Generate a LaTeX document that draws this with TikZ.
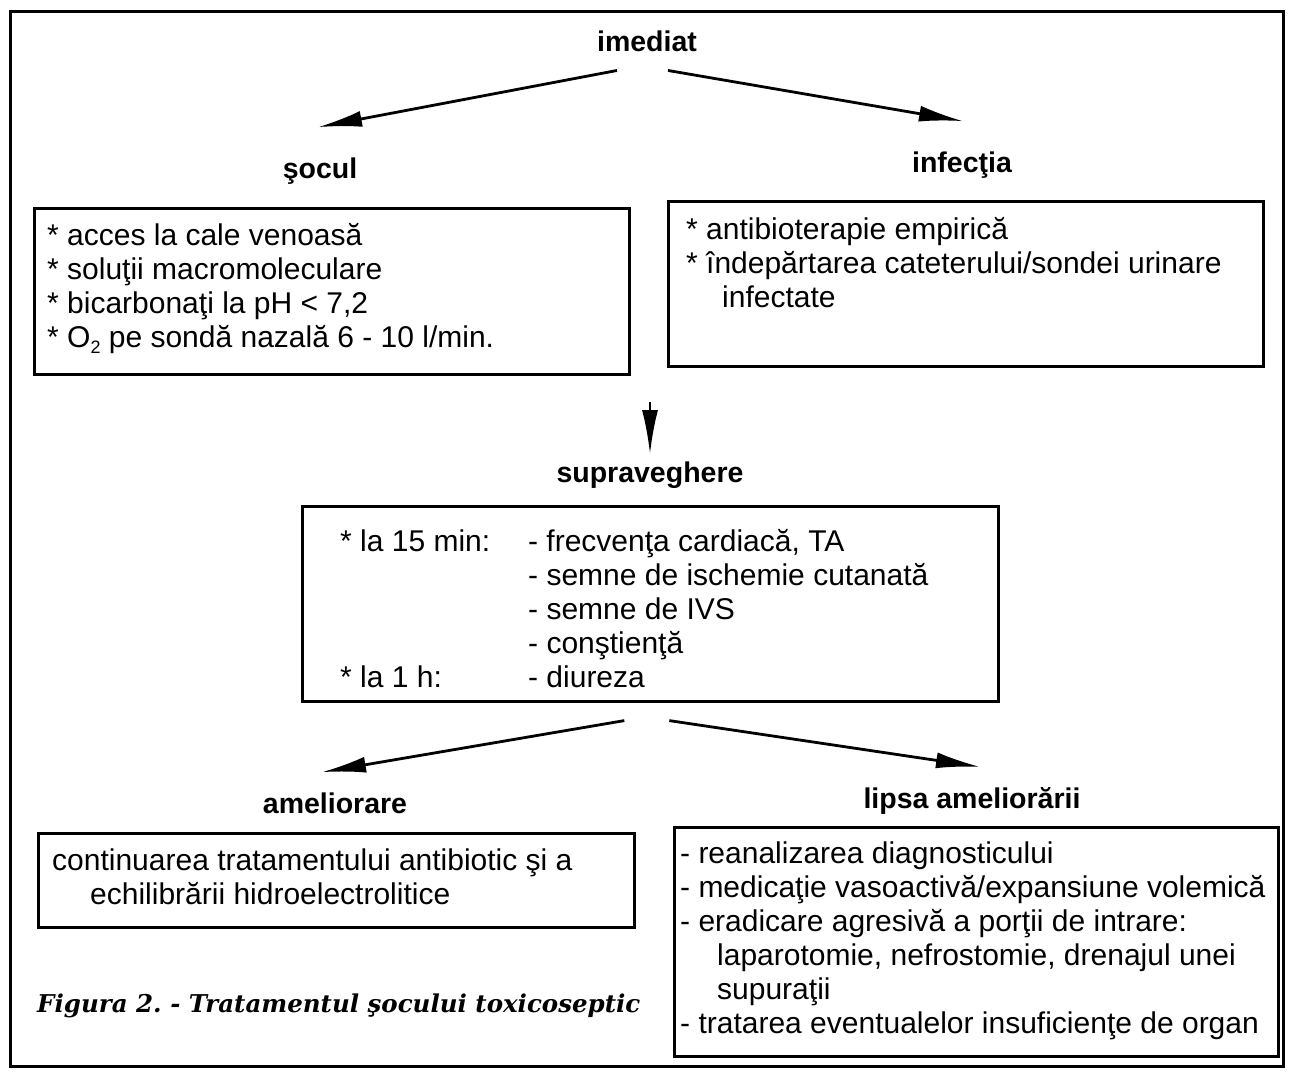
\documentclass[tikz,border=0pt]{standalone}
\usepackage{fontspec}
\setmainfont{Liberation Sans}
\newfontfamily\figfont{DejaVu Serif}
\usetikzlibrary{arrows.meta, positioning}

\begin{document}
\begin{tikzpicture}[x=1pt, y=-1pt,
  lbl/.style={font=\fontsize{28.5}{34}\selectfont\bfseries, inner sep=0pt, anchor=base},
  txt/.style={font=\fontsize{30}{34}\selectfont, align=left, inner sep=0pt, anchor=north west},
  box/.style={draw, line width=2.6pt, inner sep=0pt, anchor=north west},
  arr/.style={line width=2.8pt, -{Latex[length=44pt, width=16pt]}}]

\useasboundingbox (0,0) rectangle (1293,1071);

%frame:
\draw[line width=3pt] (10,11) rectangle (1283,1066);

%titles:
\node[lbl] (imediat) at (647,51) {imediat};
\node[lbl] (socul) at (320,178) {şocul};
\node[lbl] (infectia) at (962,172) {infecţia};
\node[lbl] (suprav) at (650,482) {supraveghere};
\node[lbl] (amel) at (335,813) {ameliorare};
\node[lbl] (lipsa) at (972,808) {lipsa ameliorării};

%boxes:
\node[box, minimum width=595pt, minimum height=166pt] (socbox) at (33,207) {};
\node[box, minimum width=595pt, minimum height=165pt] (infbox) at (667,200) {};
\node[box, minimum width=696pt, minimum height=195pt] (supbox) at (301,505) {};
\node[box, minimum width=596pt, minimum height=94pt] (amelbox) at (37,832) {};
\node[box, minimum width=604pt, minimum height=229pt] (lipsabox) at (673,826) {};

\node[txt, below right=16pt and 14pt of socbox.north west] (soctxt) {%
* acces la cale venoasă\\
* soluţii macromoleculare\\
* bicarbonaţi la pH < 7,2\\
* O\raisebox{-0.4ex}{\fontsize{18}{18}\selectfont 2} pe sondă nazală 6 - 10 l/min.};

\node[txt, below right=17pt and 19pt of infbox.north west] (inftxt) {%
* antibioterapie empirică\\
* îndepărtarea cateterului/sondei urinare\\
\hspace*{36pt}infectate};

\node[txt, below right=24pt and 39pt of supbox.north west] (suptxt) {%
\makebox[188pt][l]{* la 15 min:}- frecvenţa cardiacă, TA\\
\hspace*{188pt}- semne de ischemie cutanată\\
\hspace*{188pt}- semne de IVS\\
\hspace*{188pt}- conştienţă\\
\makebox[188pt][l]{* la 1 h:}- diureza};

\node[txt, below right=17pt and 15pt of amelbox.north west] (ameltxt) {%
continuarea tratamentului antibiotic şi a\\
\hspace*{38pt}echilibrării hidroelectrolitice};

\node[txt, below right=16pt and 7pt of lipsabox.north west] (lipsatxt) {%
- reanalizarea diagnosticului\\
- medicaţie vasoactivă/expansiune volemică\\
- eradicare agresivă a porţii de intrare:\\
\hspace*{37pt}laparotomie, nefrostomie, drenajul unei\\
\hspace*{37pt}supuraţii\\
- tratarea eventualelor insuficienţe de organ};

\node[anchor=base west, inner sep=0pt, font=\fontsize{24.5}{30}\figfont\bfseries\itshape] (caption) at (37,1012)
  {\frenchspacing Figura 2. - Tratamentul şocului toxicoseptic};

%arrows:
\draw[arr] ([xshift=-30pt, yshift=-19pt]imediat.south) -- ([xshift=-2pt, yshift=30pt]socul.north);
\draw[arr] ([xshift=21pt, yshift=-19pt]imediat.south) -- ([xshift=1pt, yshift=30pt]infectia.north);
\draw[arr] ([yshift=59pt]suprav.north) -- ([yshift=7pt]suprav.north);
\draw[arr] ([xshift=-26pt, yshift=-18pt]supbox.south) -- ([xshift=-13pt, yshift=20pt]amel.north);
\draw[arr] ([xshift=19pt, yshift=-18pt]supbox.south) -- ([xshift=8pt, yshift=20pt]lipsa.north);

\end{tikzpicture}
\end{document}
